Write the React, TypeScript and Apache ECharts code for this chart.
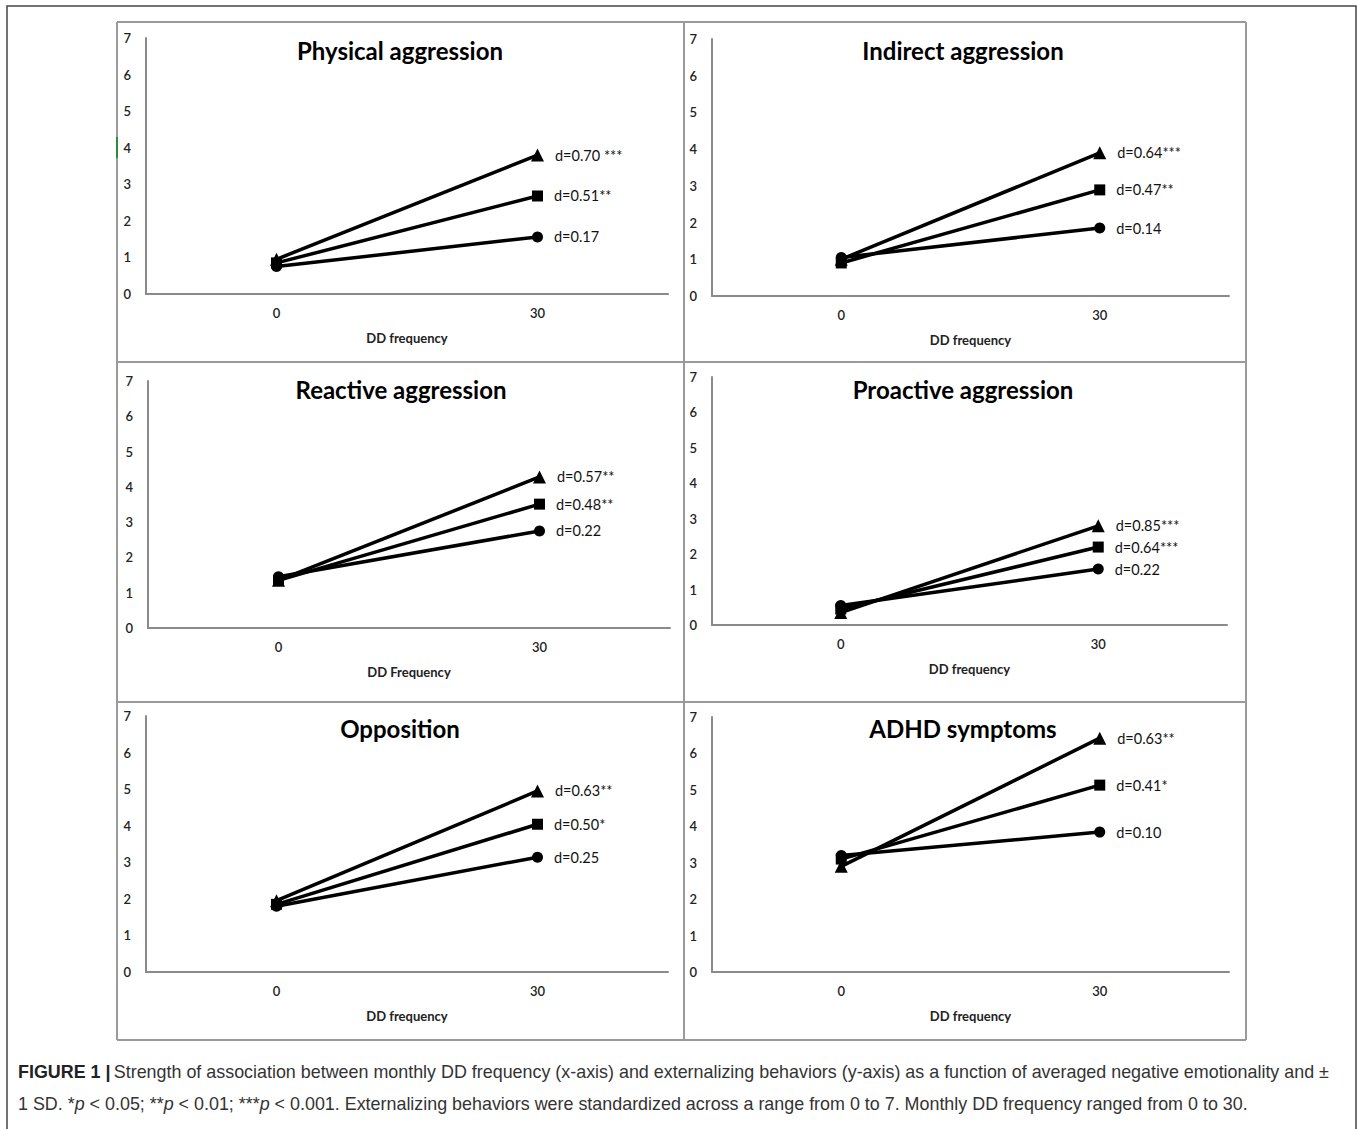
import React, { useEffect, useRef } from "react";
import * as echarts from "echarts";

const categories = ["0", "30"];
const panelTitles = [
  "Physical aggression",
  "Indirect aggression",
  "Reactive aggression",
  "Proactive aggression",
  "Opposition",
  "ADHD symptoms",
];
const axisNames = ["DD frequency", "DD frequency", "DD Frequency", "DD frequency", "DD frequency", "DD frequency"];

const circleVals = [
  [0.75, 1.56],
  [1.05, 1.85],
  [1.45, 2.75],
  [0.55, 1.58],
  [1.8, 3.14],
  [3.2, 3.84],
];
const squareVals = [
  [0.85, 2.68],
  [0.9, 2.89],
  [1.35, 3.51],
  [0.45, 2.2],
  [1.85, 4.04],
  [3.1, 5.13],
];
const triangleVals = [
  [0.95, 3.8],
  [1.0, 3.9],
  [1.35, 4.28],
  [0.35, 2.8],
  [1.95, 4.95],
  [2.9, 6.42],
];
const circleLabels = ["d=0.17", "d=0.14", "d=0.22", "d=0.22", "d=0.25", "d=0.10"];
const squareLabels = ["d=0.51**", "d=0.47**", "d=0.48**", "d=0.64***", "d=0.50*", "d=0.41*"];
const triangleLabels = ["d=0.70 ***", "d=0.64***", "d=0.57**", "d=0.85***", "d=0.63**", "d=0.63**"];

const captionLine1 =
  "Strength of association between monthly DD frequency (x-axis) and externalizing behaviors (y-axis) as a function of averaged negative emotionality and \u00b1";
const captionLine2a = "1 SD. *";
const captionLine2b = "Externalizing behaviors were standardized across a range from 0 to 7. Monthly DD frequency ranged from 0 to 30.";

// layout (pixels)
const grids = [
  { left: 146, top: 38, width: 522, height: 256 },
  { left: 712, top: 39, width: 517, height: 257 },
  { left: 148, top: 381, width: 522, height: 247 },
  { left: 712, top: 377, width: 515, height: 248 },
  { left: 146, top: 716, width: 522, height: 256 },
  { left: 712, top: 717, width: 517, height: 255 },
];
const titlePos = [
  [400, 50],
  [963, 50],
  [401, 389],
  [963, 389],
  [400, 728],
  [963, 728],
];

const FONT = "Lato, 'Open Sans', sans-serif";

export default function App() {
  const ref = useRef<HTMLDivElement>(null);
  useEffect(() => {
    if (!ref.current) return;
    const chart = echarts.init(ref.current, null, { renderer: "svg" });
    const xAxis: any[] = [];
    const yAxis: any[] = [];
    const series: any[] = [];
    const graphic: any[] = [];

    grids.forEach((g, i) => {
      xAxis.push({
        type: "category",
        gridIndex: i,
        data: categories,
        boundaryGap: true,
        axisLine: { lineStyle: { color: "#8a8a8a", width: 2 } },
        axisTick: { show: false },
        axisLabel: { color: "#222", fontSize: 13, fontWeight: 600, fontFamily: FONT, margin: 12 },
        name: axisNames[i],
        nameLocation: "middle",
        nameGap: 37,
        nameTextStyle: { color: "#222", fontSize: 13, fontWeight: "bold", fontFamily: FONT },
      });
      yAxis.push({
        type: "value",
        gridIndex: i,
        min: 0,
        max: 7,
        interval: 1,
        axisLine: { show: true, lineStyle: { color: "#8a8a8a", width: 2 } },
        axisTick: { show: false },
        splitLine: { show: false },
        axisLabel: { color: "#222", fontSize: 13, fontWeight: 600, fontFamily: FONT, margin: 15 },
      });
      const mk = (vals: number[], sym: string, size: number, label: string) => ({
        type: "line",
        xAxisIndex: i,
        yAxisIndex: i,
        symbol: sym,
        symbolSize: size,
        lineStyle: { color: "#000", width: 3.5 },
        itemStyle: { color: "#000" },
        data: [
          { value: vals[0] },
          {
            value: vals[1],
            label: {
              show: true,
              position: "right",
              distance: 11,
              formatter: label,
              color: "#111",
              fontSize: 14.5,
              fontFamily: FONT,
            },
          },
        ],
      });
      series.push(mk(circleVals[i], "circle", 11, circleLabels[i]));
      series.push(mk(squareVals[i], "rect", 11, squareLabels[i]));
      series.push(mk(triangleVals[i], "triangle", 13, triangleLabels[i]));
      graphic.push({
        type: "text",
        x: titlePos[i][0],
        y: titlePos[i][1],
        style: {
          text: panelTitles[i],
          fill: "#000",
          font: `bold 24px ${FONT}`,
          align: "center",
          verticalAlign: "middle",
        },
      });
    });

    // outer frame
    graphic.push({
      type: "rect",
      shape: { x: 7, y: 6, width: 1349, height: 1140 },
      style: { fill: "none", stroke: "#444", lineWidth: 1.5 },
    });
    // panel borders
    const px = [117, 684, 1246];
    const py = [22, 362, 702, 1040];
    py.forEach((y) =>
      graphic.push({
        type: "line",
        shape: { x1: px[0], y1: y, x2: px[2], y2: y },
        style: { stroke: "#9a9a9a", lineWidth: 2 },
      })
    );
    px.forEach((x) =>
      graphic.push({
        type: "line",
        shape: { x1: x, y1: py[0], x2: x, y2: py[3] },
        style: { stroke: "#9a9a9a", lineWidth: 2 },
      })
    );
    graphic.push({
      type: "line",
      shape: { x1: 117, y1: 137, x2: 117, y2: 158 },
      style: { stroke: "#2e8b3a", lineWidth: 2 },
    });
    // caption
    const capFont = "'Liberation Sans', Arial, sans-serif";
    const cs = 17.9;
    graphic.push({
      type: "text",
      x: 18,
      y: 1072,
      style: {
        text: `{b|FIGURE 1 |} {n|${captionLine1}}`,
        verticalAlign: "middle",
        rich: {
          b: { font: `bold ${cs}px ${capFont}`, fill: "#222" },
          n: { font: `${cs}px ${capFont}`, fill: "#333" },
        },
      },
    });
    graphic.push({
      type: "text",
      x: 18,
      y: 1104,
      style: {
        text: `{n|${captionLine2a}}{i|p}{n| < 0.05; **}{i|p}{n| < 0.01; ***}{i|p}{n| < 0.001. ${captionLine2b}}`,
        verticalAlign: "middle",
        rich: {
          n: { font: `${cs}px ${capFont}`, fill: "#333" },
          i: { font: `italic ${cs}px ${capFont}`, fill: "#333" },
        },
      },
    });

    chart.setOption({
      animation: false,
      backgroundColor: "#fff",
      grid: grids.map((g) => ({ ...g, containLabel: false })),
      xAxis,
      yAxis,
      series,
      graphic,
    });
    return () => chart.dispose();
  }, []);
  return (
    <div
      ref={ref}
      style={{ position: "absolute", left: 0, top: 0, width: 1357, height: 1129 }}
    />
  );
}
